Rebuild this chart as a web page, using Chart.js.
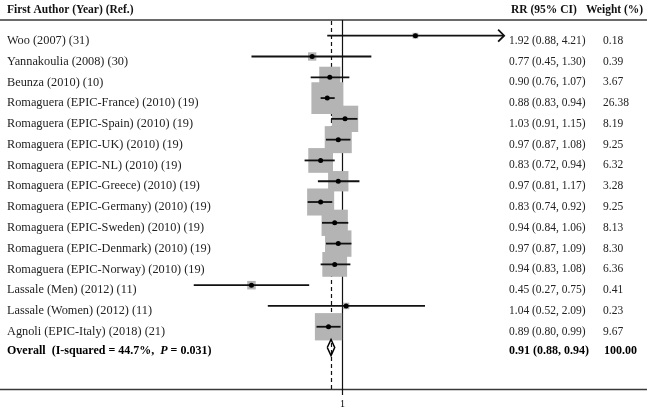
<!DOCTYPE html>
<html>
<head>
<meta charset="utf-8">
<script src="https://cdn.jsdelivr.net/npm/chart.js@4.4.0/dist/chart.umd.min.js"></script>
<style>
  html, body { margin: 0; padding: 0; background: #fff; }
  canvas { display: block; }
</style>
</head>
<body>
<canvas id="forest" width="647" height="409"></canvas>
<script>
// study rows, top to bottom
var studies = [
    'Woo (2007) (31)',
    'Yannakoulia (2008) (30)',
    'Beunza (2010) (10)',
    'Romaguera (EPIC-France) (2010) (19)',
    'Romaguera (EPIC-Spain) (2010) (19)',
    'Romaguera (EPIC-UK) (2010) (19)',
    'Romaguera (EPIC-NL) (2010) (19)',
    'Romaguera (EPIC-Greece) (2010) (19)',
    'Romaguera (EPIC-Germany) (2010) (19)',
    'Romaguera (EPIC-Sweden) (2010) (19)',
    'Romaguera (EPIC-Denmark) (2010) (19)',
    'Romaguera (EPIC-Norway) (2010) (19)',
    'Lassale (Men) (2012) (11)',
    'Lassale (Women) (2012) (11)',
    'Agnoli (EPIC-Italy) (2018) (21)'
];
var rr      = [1.92, 0.77, 0.90, 0.88, 1.03, 0.97, 0.83, 0.97, 0.83, 0.94, 0.97, 0.94, 0.45, 1.04, 0.89];
var ciLow   = [0.88, 0.45, 0.76, 0.83, 0.91, 0.87, 0.72, 0.81, 0.74, 0.84, 0.87, 0.83, 0.27, 0.52, 0.80];
var ciHigh  = [4.21, 1.30, 1.07, 0.94, 1.15, 1.08, 0.94, 1.17, 0.92, 1.06, 1.09, 1.08, 0.75, 2.09, 0.99];
var weights = [0.18, 0.39, 3.67, 26.38, 8.19, 9.25, 6.32, 3.28, 9.25, 8.13, 8.30, 6.36, 0.41, 0.23, 9.67];

var overallRR = 0.91;
var overallLow = 0.88;
var overallHigh = 0.94;
var iSquared = '44.7%';
var pValue = '0.031';
var xTicks = [1];

var fmt = function(v) { return v.toFixed(2); };
var serif = '"Liberation Serif", "Times New Roman", serif';
var overallRow = studies.length;

// box side grows with weight (random-effects style sizing)
function boxRadius(w) {
    var side = Math.sqrt(188.7 * w / (1 + 0.15 * w));
    return side / (2 * Math.SQRT1_2);
}

var datasets = [];

// point estimates
datasets.push({
    type: 'scatter',
    data: rr.map(function(v, i) { return {x: v, y: i}; }),
    pointStyle: 'circle',
    pointRadius: 2.5,
    pointBackgroundColor: '#000',
    pointBorderWidth: 0,
    order: 0
});

// confidence intervals
studies.forEach(function(s, i) {
    datasets.push({
        type: 'line',
        data: [{x: ciLow[i], y: i}, {x: ciHigh[i], y: i}],
        borderColor: '#111',
        borderWidth: 1.8,
        pointRadius: 0,
        fill: false,
        order: 1
    });
});

// weight boxes
datasets.push({
    type: 'scatter',
    data: rr.map(function(v, i) { return {x: v, y: i}; }),
    pointStyle: 'rect',
    pointRadius: function(c) { return boxRadius(weights[c.dataIndex]); },
    pointBackgroundColor: '#b4b4b4',
    pointBorderWidth: 0,
    order: 2
});

// pooled diamond
datasets.push({
    type: 'line',
    data: [
        {x: overallLow, y: overallRow},
        {x: overallRR, y: overallRow - 0.39},
        {x: overallHigh, y: overallRow},
        {x: overallRR, y: overallRow + 0.39},
        {x: overallLow, y: overallRow}
    ],
    borderColor: '#000',
    borderWidth: 1.5,
    pointRadius: 0,
    tension: 0,
    fill: false,
    order: 0
});

var forestPlugin = {
    id: 'forest',
    beforeDatasetsDraw: function(chart) {
        var ctx = chart.ctx, x = chart.scales.x, y = chart.scales.y;
        ctx.save();
        // rules
        ctx.strokeStyle = '#3a3a3a';
        ctx.lineWidth = 1.3;
        ctx.beginPath();
        ctx.moveTo(0, 20); ctx.lineTo(chart.width, 20);
        ctx.moveTo(0, 389.5); ctx.lineTo(chart.width, 389.5);
        ctx.stroke();
        // null line
        var x1 = Math.round(x.getPixelForValue(1)) + 0.5;
        ctx.strokeStyle = '#111';
        ctx.lineWidth = 1.2;
        ctx.beginPath();
        ctx.moveTo(x1, 20); ctx.lineTo(x1, 395);
        ctx.stroke();
        // overall estimate line
        var xo = Math.round(x.getPixelForValue(overallRR)) + 0.5;
        ctx.setLineDash([4, 3]);
        ctx.beginPath();
        ctx.moveTo(xo, 21); ctx.lineTo(xo, 389);
        ctx.stroke();
        ctx.setLineDash([]);
        ctx.restore();
    },
    afterDatasetsDraw: function(chart) {
        var ctx = chart.ctx, x = chart.scales.x, y = chart.scales.y;
        // arrow on the first study (CI runs off the plot)
        var ax = x.getPixelForValue(ciHigh[0]);
        var ay = y.getPixelForValue(0);
        ctx.save();
        ctx.strokeStyle = '#111';
        ctx.lineWidth = 1.8;
        ctx.beginPath();
        ctx.moveTo(ax - 6, ay - 6);
        ctx.lineTo(ax, ay);
        ctx.lineTo(ax - 6, ay + 6);
        ctx.stroke();
        ctx.restore();
    },
    afterDraw: function(chart) {
        var ctx = chart.ctx, x = chart.scales.x, y = chart.scales.y;
        ctx.save();
        ctx.textBaseline = 'middle';
        ctx.fillStyle = '#111';
        ctx.font = 'bold 11.5px ' + serif;
        ctx.fillText('First Author (Year) (Ref.)', 7, 10);
        ctx.fillText('RR (95% CI)', 511, 10);
        ctx.fillText('Weight (%)', 586, 10);

        ctx.fillStyle = '#222';
        studies.forEach(function(s, i) {
            var ty = y.getPixelForValue(i) + 5;
            ctx.font = '12.3px ' + serif;
            ctx.fillText(s, 7, ty);
            ctx.font = '11.5px ' + serif;
            ctx.fillText(fmt(rr[i]) + ' (' + fmt(ciLow[i]) + ', ' + fmt(ciHigh[i]) + ')', 509, ty);
            ctx.fillText(fmt(weights[i]), 603, ty);
        });

        // overall row
        var oy = y.getPixelForValue(overallRow) + 3.5;
        ctx.fillStyle = '#000';
        ctx.font = 'bold 12px ' + serif;
        var pos = 7;
        var part1 = 'Overall  (I-squared = ' + iSquared + ',  ';
        ctx.fillText(part1, pos, oy);
        pos += ctx.measureText(part1).width;
        ctx.font = 'italic bold 12px ' + serif;
        ctx.fillText('P', pos, oy);
        pos += ctx.measureText('P').width;
        ctx.font = 'bold 12px ' + serif;
        ctx.fillText(' = ' + pValue + ')', pos, oy);
        ctx.fillText(fmt(overallRR) + ' (' + fmt(overallLow) + ', ' + fmt(overallHigh) + ')', 509, oy);
        ctx.fillText('100.00', 604, oy);

        // x axis tick
        ctx.strokeStyle = '#111';
        ctx.lineWidth = 1;
        ctx.font = '10px ' + serif;
        ctx.textAlign = 'center';
        xTicks.forEach(function(t) {
            var tx = Math.round(x.getPixelForValue(t)) + 0.5;
            ctx.beginPath();
            ctx.moveTo(tx, 389.5); ctx.lineTo(tx, 395);
            ctx.stroke();
            ctx.fillText(String(t), tx, 404);
        });
        ctx.restore();
    }
};

var ctx = document.getElementById('forest').getContext('2d');
var forest = new Chart(ctx, {
    data: { datasets: datasets },
    options: {
        responsive: false,
        animation: false,
        events: [],
        layout: { padding: 0, autoPadding: false },
        plugins: {
            legend: { display: false },
            tooltip: { enabled: false }
        },
        scales: {
            x: {
                type: 'logarithmic',
                bounds: 'data',
                min: 0.04861,
                max: 14.907,
                display: false
            },
            y: {
                type: 'linear',
                reverse: true,
                min: -1.717,
                max: 17.956,
                display: false
            }
        }
    },
    plugins: [forestPlugin]
});
</script>
</body>
</html>
